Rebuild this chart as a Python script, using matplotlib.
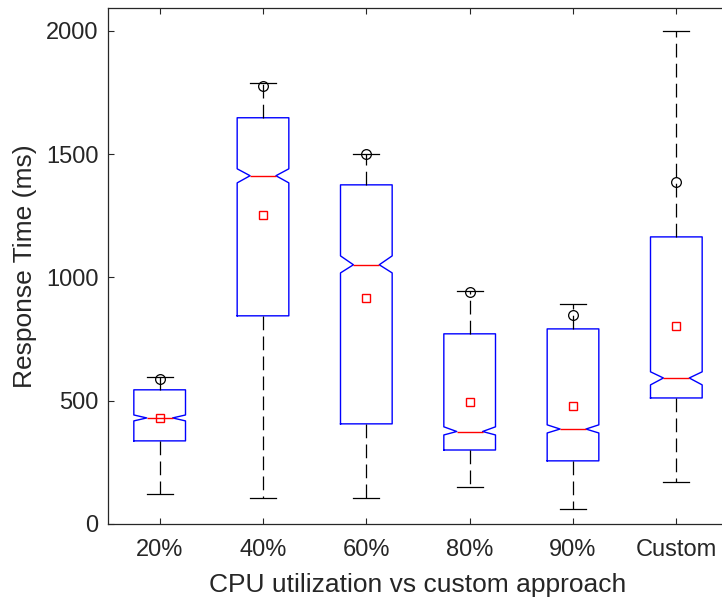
import matplotlib
matplotlib.use('Agg')
import matplotlib.pyplot as plt

# Categorías y estadísticas de cada caja (ms)
categorias = ['20%', '40%', '60%', '80%', '90%', 'Custom']
medianas = [430, 1412, 1051, 375, 385, 592]
q1 = [337, 844, 406, 300, 256, 511]
q3 = [544, 1647, 1375, 771, 791, 1164]
bigote_inf = [122, 105, 105, 150, 61, 170]
bigote_sup = [597, 1789, 1501, 945, 892, 2000]
muesca_inf = [418, 1383, 1018, 361, 369, 564]
muesca_sup = [442, 1440, 1087, 394, 402, 617]
medias = [430, 1254, 917, 495, 479, 803]
circulos = [588, 1777, 1501, 940, 848, 1387]

gris = '#262626'
plt.rcParams['font.family'] = ['Liberation Sans', 'DejaVu Sans']
plt.rcParams['text.color'] = gris

fig = plt.figure(figsize=(7.22, 6.03), dpi=100)
ax = fig.add_axes([108 / 722, 79 / 603, 620 / 722, 516 / 603])

stats = []
for i in range(len(categorias)):
    stats.append({
        'med': medianas[i], 'q1': q1[i], 'q3': q3[i],
        'whislo': bigote_inf[i], 'whishi': bigote_sup[i],
        'cilo': muesca_inf[i], 'cihi': muesca_sup[i],
        'mean': medias[i], 'fliers': [circulos[i]],
    })

ax.bxp(stats, positions=range(1, 7), widths=0.5, shownotches=True, showmeans=True,
       boxprops=dict(color='#0000ff', linewidth=1.0),
       medianprops=dict(color='#ff0000', linewidth=1.0),
       whiskerprops=dict(color='black', linewidth=0.9, linestyle=(0, (11, 5))),
       capprops=dict(color='black', linewidth=0.9),
       meanprops=dict(marker='s', markerfacecolor='none', markeredgecolor='#ff0000',
                      markersize=6, markeredgewidth=1.0),
       flierprops=dict(marker='o', markerfacecolor='none', markeredgecolor='black',
                       markersize=7, markeredgewidth=0.9))

ax.set_xlim(0.5, 6.5)
ax.set_ylim(0, 2092)
ax.set_yticks([0, 500, 1000, 1500, 2000])
ax.set_xticks(range(1, 7))
ax.set_xticklabels(categorias)
ax.tick_params(direction='in', length=4, width=0.8, color=gris, labelcolor=gris,
               labelsize=17, top=True, right=True, pad=7)
ax.tick_params(axis='x', pad=10.5)
for s in ax.spines.values():
    s.set_color(gris)
    s.set_linewidth(0.9)

ax.set_xlabel('CPU utilization vs custom approach', fontsize=19, color=gris, labelpad=9)
ax.set_ylabel('Response Time (ms)', fontsize=19, color=gris, labelpad=6)

fig.savefig('out.png', dpi=100)
